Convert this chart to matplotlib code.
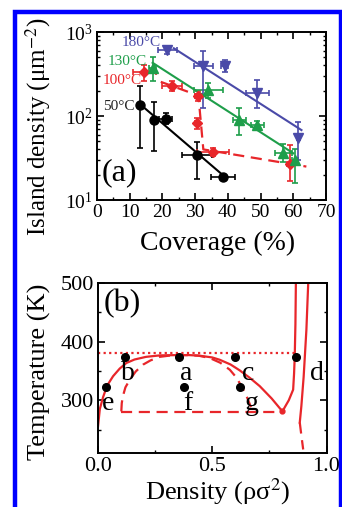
import matplotlib
matplotlib.use("Agg")
import matplotlib.pyplot as plt
from matplotlib.patches import Rectangle
from matplotlib.ticker import MultipleLocator, LogLocator, NullFormatter
import numpy as np

plt.rcParams['font.family'] = ['Liberation Serif', 'DejaVu Serif']
plt.rcParams['mathtext.fontset'] = 'stix'

# ---- panel (a): island density vs coverage ----
x50 = [13, 17.5, 21, 30.5, 38.5]
y50 = [135, 90, 92, 34, 19]
y50_lo = [42, 38, 80, 18, 19]
y50_hi = [225, 145, 108, 49, 19]
x50_err = [0.5, 0.5, 2, 4.5, 3.8]

x100 = [14.5, 23, 31, 30.5, 35.5, 59]
y100 = [330, 225, 175, 82, 37, 27]
y100_lo = [260, 200, 150, 70, 33, 17]
y100_hi = [400, 260, 200, 95, 42, 45]
x100_err = [3.5, 3, 1, 0.5, 5, 1]

x130 = [17, 34, 43.5, 49, 57, 60.5]
y130 = [370, 205, 90, 78, 36, 30]
y130_lo = [260, 165, 60, 70, 28, 16]
y130_hi = [500, 250, 125, 88, 47, 40]
x130_err = [1, 4.5, 2, 2, 2.5, 1]

x180 = [21.5, 32.5, 39, 49, 61.5]
y180 = [610, 390, 390, 190, 55]
y180_lo = [540, 125, 330, 125, 30]
y180_hi = [690, 590, 470, 270, 85]
x180_err = [3, 3, 1, 3.5, 0.5]

fit50_x, fit50_y = [13, 39], [140, 19]
fit130_x, fit130_y = [17, 60], [430, 36]
fit180_x, fit180_y = [23.5, 62.5], [640, 68]
fit100_x, fit100_y = [19.5, 31, 32.5, 64], [255, 175, 40, 25]

# ---- panel (b): phase diagram ----
dots_rho = [0.036, 0.12, 0.355, 0.377, 0.60, 0.62, 0.866]
dots_T = [322, 374, 374, 322, 374, 322, 374]
letters = ['e', 'b', 'a', 'f', 'c', 'g', 'd']
letter_rho = [0.044, 0.131, 0.387, 0.394, 0.657, 0.672, 0.956]
letter_T = [294, 346, 346, 294, 345, 294, 346]

binodal_rho = [0.0, 0.008, 0.022, 0.04, 0.066, 0.095, 0.124, 0.16, 0.21, 0.27, 0.343,
               0.40, 0.445, 0.50, 0.533, 0.58, 0.62, 0.665, 0.708, 0.76, 0.807,
               0.835, 0.854, 0.858, 0.861, 0.864, 0.866]
binodal_T = [255, 285, 305, 325, 341, 354, 363.5, 369.5, 374, 376.5, 377,
             377, 376, 373, 369, 361, 351, 338, 324, 303, 281,
             300, 318, 345, 375, 430, 500]
spinodal_rho = [0.102, 0.104, 0.109, 0.12, 0.139, 0.165, 0.197, 0.23, 0.27, 0.33, 0.387,
                0.44, 0.489, 0.535, 0.577, 0.605, 0.628, 0.65, 0.67]
spinodal_T = [281, 295, 307, 322, 335, 349, 360.7, 368, 374, 377, 377,
              376, 372, 364, 352, 339, 324, 307, 288]
tie_rho = [0.10, 0.81]
tie_T = [280, 280]
tc_rho = [0.0, 0.87]
tc_T = [381, 381]
right_solid_rho = [0.92, 0.912, 0.90, 0.89, 0.883]
right_solid_T = [500, 420, 340, 290, 262]
right_dash_rho = [0.883, 0.89, 0.898]
right_dash_T = [262, 240, 216]
cusp_rho, cusp_T = [0.807], [281]

blue = '#4a4aa8'
green = '#1e9e4a'
red = '#e8262a'

W, H = 342, 507
fig = plt.figure(figsize=(W / 100, H / 100), dpi=100)

# blue frame round the figure
fig.patches.append(Rectangle((15 / W, -0.05), (340.5 - 15) / W, 1.05 - 12 / H,
                             transform=fig.transFigure, fill=False,
                             edgecolor='#0000ff', linewidth=3.2, zorder=0))

ax1 = fig.add_axes([97 / W, 1 - 200 / H, 229 / W, 168 / H])
ax2 = fig.add_axes([98 / W, 1 - 453 / H, 228.5 / W, 170 / H])

def err_lohi(y, lo, hi):
    y = np.array(y, float)
    return [y - np.array(lo, float), np.array(hi, float) - y]

eb = dict(linestyle='none', capsize=2, elinewidth=1.2, capthick=1.2, markersize=6.5)
ax1.errorbar(x50, y50, yerr=err_lohi(y50, y50_lo, y50_hi), xerr=x50_err,
             fmt='o', color='black', **eb)
ax1.errorbar(x100, y100, yerr=err_lohi(y100, y100_lo, y100_hi), xerr=x100_err,
             fmt='D', color=red, **dict(eb, markersize=5.5))
ax1.errorbar(x130, y130, yerr=err_lohi(y130, y130_lo, y130_hi), xerr=x130_err,
             fmt='^', color=green, **eb)
ax1.errorbar(x180, y180, yerr=err_lohi(y180, y180_lo, y180_hi), xerr=x180_err,
             fmt='v', color=blue, **eb)

ax1.plot(fit50_x, fit50_y, color='black', lw=1.5)
ax1.plot(fit130_x, fit130_y, color=green, lw=1.5)
ax1.plot(fit180_x, fit180_y, color=blue, lw=1.5)
ax1.plot(fit100_x, fit100_y, color=red, lw=1.6, ls=(0, (5, 3)))

lab = dict(fontsize=11, ha='left', va='center')
ax1.text(7.6, 740, '180°C', color=blue, **lab)
ax1.text(3.4, 450, '130°C', color=green, **lab)
ax1.text(1.8, 262, '100°C', color=red, **lab)
ax1.text(1.8, 130, '50°C', color='#222222', **lab)
ax1.text(1.5, 21, '(a)', fontsize=23, ha='left', va='center')

ax1.set_yscale('log')
ax1.set_xlim(0, 70)
ax1.set_ylim(10, 1000)
ax1.xaxis.set_major_locator(MultipleLocator(10))
ax1.xaxis.set_minor_locator(MultipleLocator(5))
ax1.yaxis.set_major_locator(LogLocator(base=10, numticks=5))
ax1.yaxis.set_minor_locator(LogLocator(base=10, subs=np.arange(2, 10), numticks=10))
ax1.yaxis.set_minor_formatter(NullFormatter())

# panel (b)
ax2.plot(tc_rho, tc_T, color=red, lw=1.6, ls=(0, (1, 1.5)))
ax2.plot(binodal_rho, binodal_T, color=red, lw=1.6)
ax2.plot(spinodal_rho, spinodal_T, color=red, lw=1.6, ls=(0, (5, 3)))
ax2.plot(tie_rho, tie_T, color=red, lw=1.6, ls=(0, (5, 3)))
ax2.plot(right_solid_rho, right_solid_T, color=red, lw=1.6)
ax2.plot(right_dash_rho, right_dash_T, color=red, lw=1.6, ls=(0, (5, 3)))
ax2.plot(cusp_rho, cusp_T, 'o', color=red, markersize=3.5)
ax2.plot(dots_rho, dots_T, 'o', color='black', markersize=5.5, zorder=5)
for s, r, t in zip(letters, letter_rho, letter_T):
    ax2.text(r, t, s, fontsize=20, ha='center', va='center', zorder=6)
ax2.text(0.025, 465, '(b)', fontsize=23, ha='left', va='center')

ax2.set_xlim(0, 1.0)
ax2.set_ylim(210, 500)
ax2.xaxis.set_minor_locator(MultipleLocator(0.25))
ax2.yaxis.set_minor_locator(MultipleLocator(50))
ax2.set_yticks([300, 400, 500])
ax2.set_xticks([0.0, 0.5, 1.0])
ax2.set_xticklabels(['0.0', '0.5', '1.0'])

for ax, ls in ((ax1, 14), (ax2, 16)):
    ax.tick_params(which='both', direction='in', top=True, right=True, labelsize=ls, pad=3)
    ax.tick_params(which='major', length=5, width=1.2)
    ax.tick_params(which='minor', length=2.5, width=1.0)
    for sp in ax.spines.values():
        sp.set_linewidth(1.4)

# axis titles placed in pixel positions of the reference
fig.text(38 / W, 1 - 127 / H, 'Island density (μm$^{-2}$)', fontsize=18,
         rotation=90, ha='center', va='center')
fig.text(218 / W, 1 - 243 / H, 'Coverage (%)', fontsize=20, ha='center', va='center')
fig.text(39 / W, 1 - 372 / H, 'Temperature (K)', fontsize=19,
         rotation=90, ha='center', va='center')
fig.text(218 / W, 1 - 492 / H, 'Density (ρσ$^{2}$)', fontsize=19, ha='center', va='center')

fig.savefig('out.png', dpi=100)
